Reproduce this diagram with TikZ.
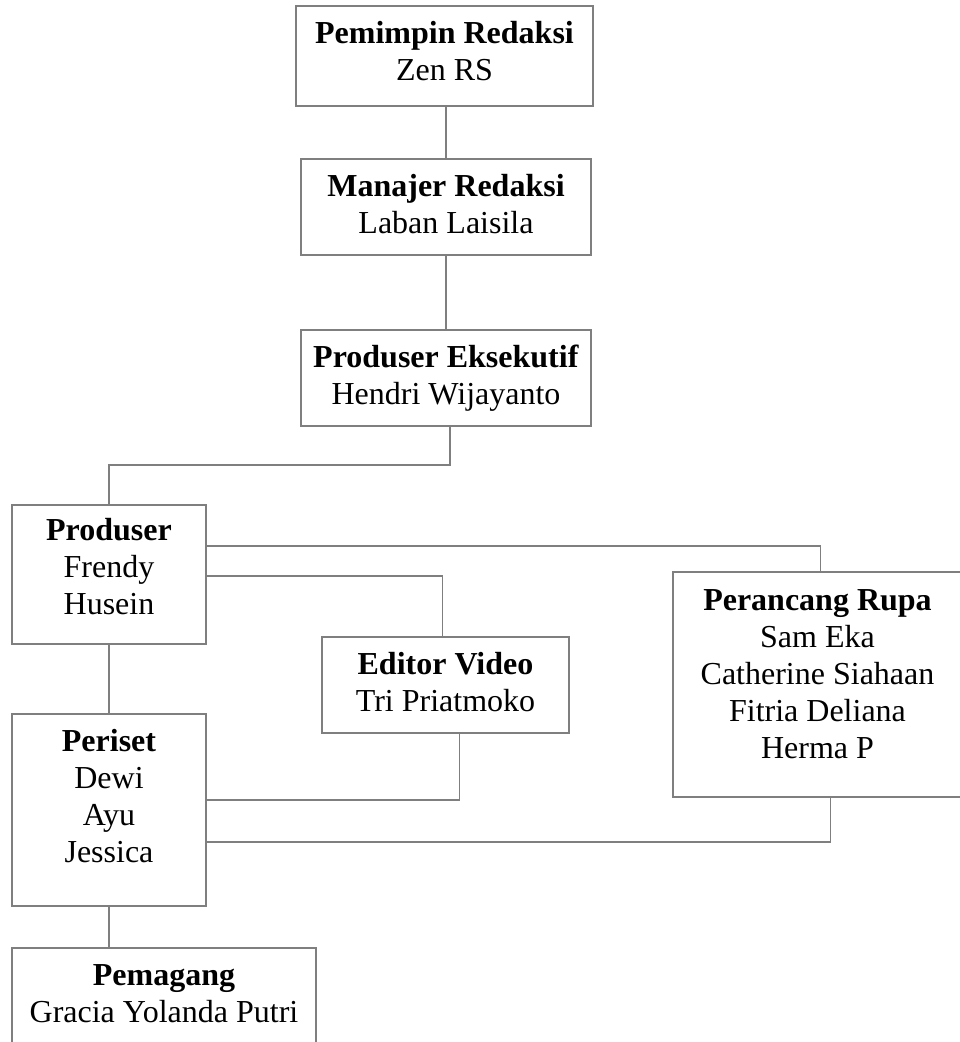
\documentclass[tikz,border=0pt]{standalone}
\usepackage{fontspec}
\setmainfont{Liberation Serif}
\usetikzlibrary{calc}
\definecolor{ln}{HTML}{7F7F7F}
\begin{document}
\begin{tikzpicture}[x=1pt,y=-1pt,
  box/.style={draw=ln, line width=1.6pt, inner sep=0pt, outer sep=0pt},
  txt/.style={anchor=north, align=center, inner sep=0pt, font=\fontsize{32}{37}\selectfont},
  conn/.style={draw=ln, line width=1.6pt}]
\useasboundingbox (0,0) rectangle (960,1042);
\clip (0,0) rectangle (960,1042);
% boxes
\node[box, minimum width=297, minimum height=100] (p1) at (444.5,56) {};
\node[box, minimum width=290, minimum height=96] (p2) at (446,207) {};
\node[box, minimum width=290, minimum height=96] (p3) at (446,378) {};
\node[box, minimum width=194, minimum height=139] (prod) at (109,574.5) {};
\node[box, minimum width=247, minimum height=96] (ed) at (445.5,685) {};
\node[box, minimum width=289, minimum height=225] (rupa) at (817.5,684.5) {};
\node[box, minimum width=194, minimum height=192] (peri) at (109,810) {};
\node[box, minimum width=304, minimum height=112] (mag) at (164,1004) {};
% texts
\node[txt] (t1) at ($(p1.north)+(0,11)$) {\strut\textbf{Pemimpin Redaksi}\\Zen RS};
\node[txt] (t2) at ($(p2.north)+(0,11)$) {\strut\textbf{Manajer Redaksi}\\Laban Laisila};
\node[txt] (t3) at ($(p3.north)+(0,11)$) {\strut\textbf{Produser Eksekutif}\\Hendri Wijayanto};
\node[txt] (t4) at ($(prod.north)+(0,9)$) {\strut\textbf{Produser}\\Frendy\\Husein};
\node[txt] (t5) at ($(ed.north)+(0,11)$) {\strut\textbf{Editor Video}\\Tri Priatmoko};
\node[txt] (t6) at ($(rupa.north)+(0,12)$) {\strut\textbf{Perancang Rupa}\\Sam Eka\\Catherine Siahaan\\Fitria Deliana\\Herma P};
\node[txt] (t7) at ($(peri.north)+(0,11)$) {\strut\textbf{Periset}\\Dewi\\Ayu\\Jessica};
\node[txt] (t8) at ($(mag.north)+(0,11)$) {\strut\textbf{Pemagang}\\Gracia Yolanda Putri};
% connectors
\draw[conn] (p2.north) -- (p2.north |- p1.south);
\draw[conn] (p2.south) -- (p3.north);
\draw[conn] ($(p3.south)+(4,0)$) -- ++(0,39) -| (prod.north);
\draw[conn] (prod.east |- 0,546) -| ($(rupa.north)+(3,0)$);
\draw[conn] (prod.east |- 0,576) -| ($(ed.north)+(-3,0)$);
\draw[conn] (prod.south) -- (peri.north);
\draw[conn] ($(ed.south)+(14,0)$) |- (peri.east |- 0,800);
\draw[conn] ($(rupa.south)+(13,0)$) |- (peri.east |- 0,842);
\draw[conn] (peri.south) -- (peri.south |- mag.north);
\end{tikzpicture}
\end{document}
